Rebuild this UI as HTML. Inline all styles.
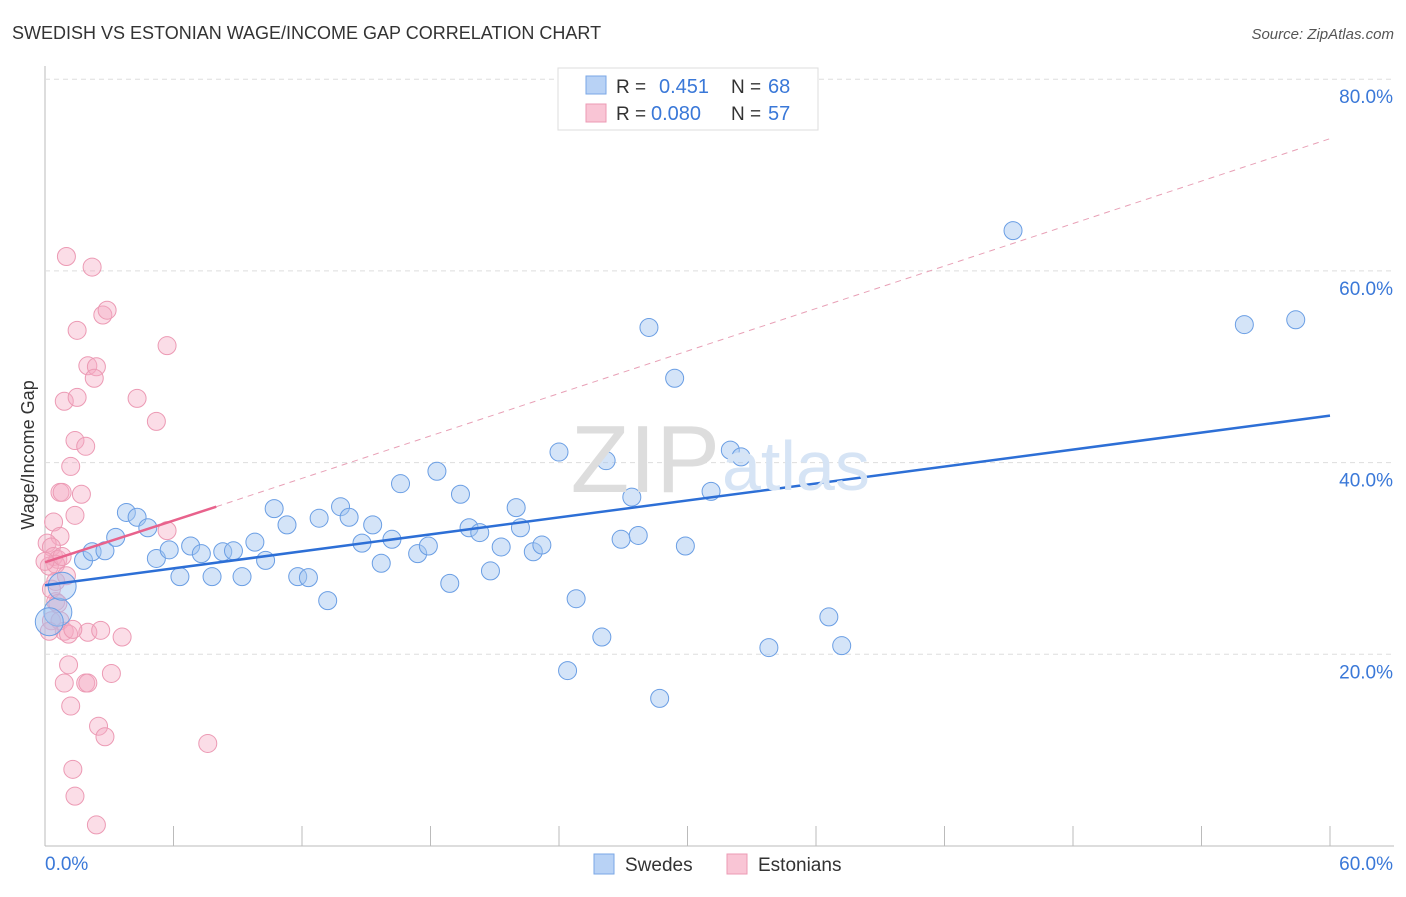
<!DOCTYPE html>
<html><head><meta charset="utf-8"><style>
body{margin:0;background:#fff;font-family:"Liberation Sans",sans-serif}
svg text{font-family:"Liberation Sans",sans-serif}
</style></head><body>
<svg id="c" width="1406" height="892">
<text x="12" y="39" font-size="18" fill="#333">SWEDISH VS ESTONIAN WAGE/INCOME GAP CORRELATION CHART</text>
<text x="1394" y="39" font-size="15" fill="#555" font-style="italic" text-anchor="end">Source: ZipAtlas.com</text>
<text x="34" y="455" font-size="18" fill="#333" transform="rotate(-90 34 455)" text-anchor="middle">Wage/Income Gap</text>
<g id="grid"></g><g id="marks"></g>
<text x="720" y="492" font-size="96" fill="#ddd" text-anchor="end" font-family="Liberation Serif">ZIP</text>
<text x="722" y="490" font-size="70" fill="#d6e4f5">atlas</text>
<g>
<rect x="558" y="68" width="260" height="62" fill="#fff" stroke="#ddd"/>
<rect x="586" y="76" width="20" height="18" fill="#b8d2f5" stroke="#7aa7e6"/>
<rect x="586" y="104" width="20" height="18" fill="#f9c5d5" stroke="#ec9ab4"/>
<text x="616" y="93" font-size="19" fill="#333">R = </text><text x="659" y="93" font-size="20" fill="#3a78d8">0.451</text>
<text x="731" y="93" font-size="19" fill="#333">N = </text><text x="768" y="93" font-size="20" fill="#3a78d8">68</text>
<text x="616" y="120" font-size="19" fill="#333">R = </text><text x="651" y="120" font-size="20" fill="#3a78d8">0.080</text>
<text x="731" y="120" font-size="19" fill="#333">N = </text><text x="768" y="120" font-size="20" fill="#3a78d8">57</text>
</g>
<g>
<rect x="594" y="854" width="20" height="20" fill="#b8d2f5" stroke="#7aa7e6"/>
<text x="625" y="871" font-size="19" fill="#333">Swedes</text>
<rect x="727" y="854" width="20" height="20" fill="#f9c5d5" stroke="#ec9ab4"/>
<text x="758" y="871" font-size="19" fill="#333">Estonians</text>
</g>
</svg>
<script>
const yTicks=[20,40,60,80];
const xTickLabels=["0.0%","60.0%"];
const swedesX=[0.6,0.8,1.8,2.2,2.8,3.3,3.8,4.3,4.8,5.2,5.8,6.3,6.8,7.3,7.8,8.3,8.8,9.2,9.8,10.3,10.7,11.3,11.8,12.3,12.8,13.2,13.8,14.2,14.8,15.3,15.7,16.2,16.6,17.4,17.9,18.3,18.9,19.4,19.8,20.3,20.8,21.3,22.0,22.2,22.8,23.2,24.0,24.4,24.8,26.0,26.2,26.9,27.4,27.7,28.2,28.7,29.4,29.9,31.1,32.0,32.5,33.8,36.6,37.2,45.2,56.0,58.4,0.2];
const swedesY=[24.4,27.1,29.8,30.7,30.8,32.2,34.8,34.3,33.2,30.0,30.9,28.1,31.3,30.5,28.1,30.7,30.8,28.1,31.7,29.8,35.2,33.5,28.1,28.0,34.2,25.6,35.4,34.3,31.6,33.5,29.5,32.0,37.8,30.5,31.3,39.1,27.4,36.7,33.2,32.7,28.7,31.2,35.3,33.2,30.7,31.4,41.1,18.3,25.8,21.8,40.2,32.0,36.4,32.4,54.1,15.4,48.8,31.3,37.0,41.3,40.6,20.7,23.9,20.9,64.2,54.4,54.9,23.4];
const estoniansX=[1.0,2.2,2.7,2.9,1.5,5.7,2.0,2.4,2.3,0.9,1.5,4.3,5.2,1.4,1.9,1.2,0.7,0.8,1.7,1.4,0.4,0.7,0.1,0.3,0.4,0.6,5.7,0.2,0.5,0.0,0.5,0.5,0.3,0.7,0.9,1.1,2.0,2.6,3.6,1.1,0.9,1.9,2.0,3.1,1.2,2.5,2.8,7.6,1.3,1.4,2.4,0.3,0.6,0.2,0.8,1.0,1.3];
const estoniansY=[61.5,60.4,55.4,55.9,53.8,52.2,50.1,50.0,48.8,46.4,46.8,46.7,44.3,42.3,41.7,39.6,36.9,36.9,36.7,34.5,33.8,32.3,31.6,31.2,30.2,29.9,32.9,29.2,29.4,29.7,27.6,25.5,23.5,23.5,22.4,22.1,22.3,22.5,21.8,18.9,17.0,17.0,17.0,18.0,14.6,12.5,11.4,10.7,8.0,5.2,2.2,26.8,25.3,22.4,30.2,28.2,22.6];
const X0=45,X1=1330,YB=846,PXY=191.7/20;
const xs=v=>X0+v/60*(X1-X0), ys=v=>YB-v*PXY;
const NS="http://www.w3.org/2000/svg";
function mk(t,a,p){const e=document.createElementNS(NS,t);for(const k in a)e.setAttribute(k,a[k]);p.appendChild(e);return e;}
const grid=document.getElementById('grid'),marks=document.getElementById('marks');
let ax=mk('line',{x1:X0,y1:66,x2:X0,y2:846,stroke:'#bbb'},grid);


let bx=mk('line',{x1:X0,y1:846,x2:1394,y2:846,stroke:'#bbb'},grid);


for(let i=1;i<=10;i++){let l=mk('line',{x1:X0+i*128.5,y1:826,x2:X0+i*128.5,y2:846,stroke:'#bbb'},grid);

}
yTicks.forEach(v=>{let l=mk('line',{x1:X0,y1:ys(v),x2:1394,y2:ys(v),stroke:'#ddd','stroke-dasharray':'5,4'},grid);


let t=mk('text',{x:1393,y:ys(v)+24,'font-size':19,fill:'#3a78d8','text-anchor':'end'},grid);t.textContent=v.toFixed(1)+'%';

});
let t0=mk('text',{x:45,y:870,'font-size':19,fill:'#3a78d8'},grid);t0.textContent=xTickLabels[0];


let t1=mk('text',{x:1393,y:870,'font-size':19,fill:'#3a78d8','text-anchor':'end'},grid);t1.textContent=xTickLabels[1];


estoniansX.forEach((v,i)=>{let c=mk('circle',{cx:xs(v),cy:ys(estoniansY[i]),r:9,fill:'rgba(246,170,195,0.4)',stroke:'#ec9ab4','stroke-width':1},marks);

});
swedesX.forEach((v,i)=>{let c=mk('circle',{cx:xs(v),cy:ys(swedesY[i]),r:(i<2||i==67)?14:9,fill:'rgba(160,195,240,0.45)',stroke:'#6a9ee4','stroke-width':1},marks);

});
let tb=mk('line',{x1:xs(0),y1:ys(27.2),x2:xs(60),y2:ys(44.9),stroke:'#2d6fd6','stroke-width':2.5},marks);


let tp=mk('line',{x1:xs(0),y1:ys(29.6),x2:xs(8),y2:ys(35.4),stroke:'#e8628c','stroke-width':2.5},marks);


let td=mk('line',{x1:xs(8),y1:ys(35.4),x2:xs(60),y2:ys(73.8),stroke:'#e8a0b6','stroke-width':1,'stroke-dasharray':'6,5'},marks);


</script>
</body></html>
